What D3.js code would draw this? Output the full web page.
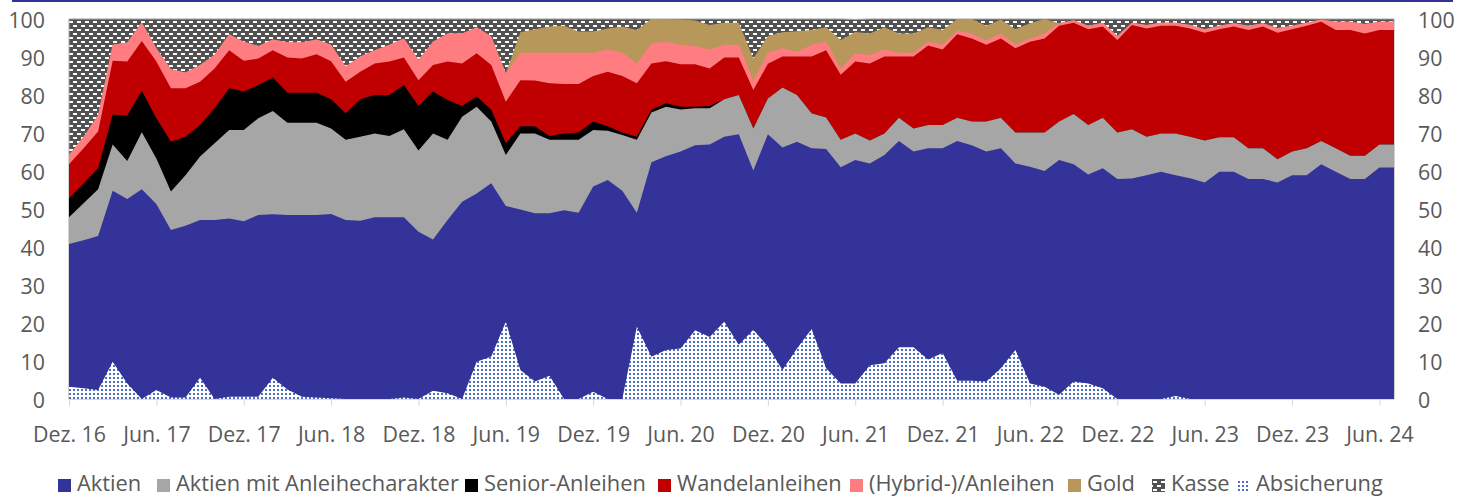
<!DOCTYPE html>
<html>
<head>
<meta charset="utf-8">
<script src="https://cdn.jsdelivr.net/npm/d3@7"></script>
<style>
  body { margin: 0; background: #fff; }
  svg text { font-family: "Open Sans", sans-serif; fill: #595959; }
</style>
</head>
<body>
<div id="viz"></div>
<script>
// monthly allocation in %, Dez. 16 .. Jul. 24
var aktien = [40.8,41.8,42.9,54.8,52.6,55.2,51.3,44.5,45.6,47.1,
  47.1,47.5,46.8,48.4,48.6,48.4,48.4,48.4,48.7,47.1,
  46.9,47.8,47.8,47.8,44.0,42.0,47.1,51.9,54.1,56.8,
  50.8,49.9,48.9,48.9,49.7,49.0,55.9,57.6,54.8,49.0,
  62.3,63.9,65.1,66.8,67.0,69.0,69.7,60.1,69.7,66.2,
  67.7,66.0,65.8,61.0,62.9,62.0,64.2,67.9,65.1,66.0,
  66.0,67.9,66.8,65.1,66.0,62.0,61.1,60.0,62.9,61.8,
  59.1,60.7,57.9,58.0,58.9,59.8,58.9,58.1,57.0,59.8,
  59.8,57.9,57.9,57.0,58.9,58.9,61.8,59.8,57.9,57.9,
  60.9,60.9];
var anleihechar = [7.0,9.7,12.3,12.2,10.0,15.0,12.0,10.1,13.3,16.7,
  20.2,23.3,24.0,25.5,27.2,24.3,24.3,24.3,22.5,21.1,
  22.1,22.1,21.4,23.2,21.4,27.9,21.1,22.4,22.8,16.2,
  13.4,20.0,21.0,19.3,18.5,19.2,14.9,13.0,14.7,19.2,
  13.1,13.0,11.1,9.7,9.5,9.9,10.3,11.1,9.4,15.8,
  12.3,9.2,8.3,7.2,7.0,6.0,5.7,6.1,6.1,6.1,
  6.1,6.1,6.2,7.9,8.0,8.1,9.0,10.1,10.1,13.2,
  13.0,13.3,12.2,13.0,10.1,10.1,11.0,10.9,11.0,9.1,
  9.1,8.1,8.1,6.1,6.2,7.1,6.1,6.2,6.1,6.1,
  6.1,6.1];
var senior = [5.0,5.2,5.5,7.9,12.0,10.9,10.6,13.1,10.1,8.3,
  9.2,11.0,10.1,8.7,8.8,7.9,7.9,7.9,7.7,7.0,
  9.9,10.1,10.8,11.6,11.7,11.0,10.5,2.8,2.7,3.1,
  3.1,1.9,1.9,1.0,1.7,1.9,2.2,1.2,0.6,0.8,
  0.7,0.9,0.7,0.4,0.6,0,0,0,0,0,
  0,0,0,0,0,0,0,0,0,0,
  0,0,0,0,0,0,0,0,0,0,
  0,0,0,0,0,0,0,0,0,0,
  0,0,0,0,0,0,0,0,0,0,
  0,0];
var wandel = [9.0,9.3,9.7,14.1,14.2,13.1,14.9,14.1,12.8,11.4,
  10.5,10.0,8.1,7.0,7.2,9.3,9.0,10.1,10.0,8.3,
  7.2,8.3,8.8,7.3,6.8,7.0,10.1,11.2,11.4,11.8,
  10.9,12.1,12.0,13.9,13.0,12.8,12.0,14.3,14.9,14.1,
  12.2,11.1,11.2,11.2,9.9,11.0,9.9,10.1,9.1,8.1,
  10.1,14.9,17.7,17.1,18.9,20.3,20.2,16.1,18.9,20.9,
  19.9,22.0,21.9,20.2,20.9,22.2,23.9,24.8,25.2,24.0,
  25.2,24.0,24.4,27.4,28.5,28.3,28.3,28.5,28.4,28.4,
  29.1,31.1,32.0,33.3,32.2,32.2,31.4,31.1,33.1,32.2,
  30.1,30.1];
var hybrid = [2.4,3.0,4.3,4.2,5.0,4.9,3.5,5.0,4.1,4.4,
  3.6,4.2,5.0,3.3,2.8,4.0,4.2,3.9,4.3,4.0,
  4.0,3.5,4.4,5.0,5.3,6.1,7.4,7.9,6.8,7.5,
  7.5,7.2,7.3,8.0,8.2,8.2,6.1,5.9,6.2,5.2,
  5.3,5.1,5.1,4.8,5.0,3.3,3.3,2.5,2.9,2.2,
  1.3,3.1,2.2,1.7,2.2,2.2,1.9,1.0,1.0,1.0,
  1.2,0.9,1.3,1.1,1.3,0.9,0.9,1.3,0.7,0.7,
  0.9,1.0,1.0,0.6,0.9,0.8,0.8,0.9,0.9,0.9,
  0.9,1.1,0.9,1.2,0.9,0.8,0.6,2.2,2.2,2.5,
  2.2,2.2];
var gold = [0,0,0,0,0,0,0,0,0,0,
  0,0,0,0,0,0,0,0,0,0,
  0,0,0,0,0,0,0,0,0,0,
  0,5.4,6.2,6.9,7.1,5.6,5.6,5.5,6.8,8.8,
  6.4,6.0,6.7,6.7,6.4,5.8,5.8,5.8,4.4,4.2,
  5.4,3.9,3.8,7.5,5.6,5.7,5.8,5.1,5.1,3.8,
  3.9,3.1,3.8,3.9,3.7,4.1,4.0,3.8,0,0,
  0,0,0,0,0,0,0,0,0,0,
  0,0,0,0,0,0,0,0,0,0,
  0,0];
var kasse = [35.8,31.0,25.3,6.8,6.2,0.9,7.7,13.2,14.1,12.1,
  9.4,4.0,6.0,7.1,5.4,6.1,6.2,5.4,6.8,12.5,
  9.9,8.2,6.8,5.1,10.8,6.0,3.8,3.8,2.2,4.6,
  14.3,3.5,2.7,2.0,1.8,3.3,3.3,2.5,2.0,2.9,
  0,0,0.1,0.4,1.6,1.0,1.0,10.4,4.5,3.5,
  3.2,2.9,2.2,5.5,3.3,3.8,2.2,3.8,3.8,2.2,
  2.9,0,0,1.8,0.1,2.7,1.1,0,1.1,0.3,
  1.8,1.0,4.5,1.0,1.6,1.0,1.0,1.6,2.7,1.8,
  1.1,1.8,1.1,2.4,1.8,1.0,0.1,0.7,0.7,1.3,
  0.7,0.7];
var absicherung = [3.2,2.8,2.4,9.8,4.1,0,2.4,0.4,0.4,5.6,
  0,0.6,0.6,0.6,5.6,2.5,0.6,0.4,0.2,0,
  0,0,0,0.4,0,2.2,1.5,0,9.8,11.2,
  20.3,7.6,4.6,6.1,0,0,1.9,0,0,19.0,
  11.1,12.9,13.3,18.1,16.3,20.3,14.3,18.2,13.8,7.6,
  13.3,18.4,8.1,4.1,4.1,8.9,9.4,13.6,13.6,10.4,
  12.1,4.8,4.8,4.6,8.1,12.9,4.1,3.2,1.1,4.6,
  4.1,2.8,0,0,0,0,0.8,0,0,0,
  0,0,0,0,0,0,0,0,0,0,
  0,0];

var tickLabels = ["Dez. 16","Jun. 17","Dez. 17","Jun. 18","Dez. 18","Jun. 19","Dez. 19","Jun. 20",
  "Dez. 20","Jun. 21","Dez. 21","Jun. 22","Dez. 22","Jun. 23","Dez. 23","Jun. 24"];
var keys = ["aktien","anleihechar","senior","wandel","hybrid","gold","kasse"];
var names = ["Aktien","Aktien mit Anleihecharakter","Senior-Anleihen","Wandelanleihen",
  "(Hybrid-)/Anleihen","Gold","Kasse","Absicherung"];
var colors = {aktien:"#333399", anleihechar:"#a6a6a6", senior:"#000000", wandel:"#c00000",
  hybrid:"#ff7c80", gold:"#b8985a", kasse:"url(#kasse)", absicherung:"url(#absich)"};

var width = 1458, height = 497;
var n = aktien.length;

var svg = d3.select("#viz").append("svg")
    .attr("width", width)
    .attr("height", height);

// patterns for Kasse / Absicherung
var defs = svg.append("defs");
var kp = defs.append("pattern").attr("id", "kasse")
    .attr("patternUnits", "userSpaceOnUse").attr("width", 8).attr("height", 8);
kp.append("rect").attr("width", 8).attr("height", 8).attr("fill", "#525252");
[[1,1],[5,5],[-3,5]].forEach(function(p) {
  kp.append("rect").attr("x", p[0]).attr("y", p[1]).attr("width", 4).attr("height", 2).attr("fill", "#fff");
});
var ap = defs.append("pattern").attr("id", "absich")
    .attr("patternUnits", "userSpaceOnUse").attr("width", 4).attr("height", 4);
ap.append("rect").attr("width", 4).attr("height", 4).attr("fill", "#fff");
ap.append("rect").attr("x", 1).attr("y", 1).attr("width", 2).attr("height", 2).attr("fill", "#4a6fc4");

var x = d3.scaleLinear().domain([0, n - 1]).range([69, 1394]);
var y = d3.scaleLinear().domain([0, 100]).range([399, 19]);

function fit(str, target) {
  var t = svg.append("text").style("font-size", "20px").text(str);
  var w = t.node().getComputedTextLength();
  t.remove();
  return 20 * target / w;
}
var axisSize = fit("Dez. 22", 73);
var legendSize = fit("Aktien mit Anleihecharakter", 283);

var table = d3.range(n).map(function(i) {
  return {aktien: aktien[i], anleihechar: anleihechar[i], senior: senior[i], wandel: wandel[i],
    hybrid: hybrid[i], gold: gold[i], kasse: kasse[i]};
});
var series = d3.stack().keys(keys)(table);

// each layer filled from 0 to its top, top layer first, so no seams
var area = d3.area()
    .x(function(d, i) { return x(i); })
    .y0(y(0))
    .y1(function(d) { return y(d[1]); });

svg.append("g").selectAll("path")
    .data(series.slice().reverse())
  .enter().append("path")
    .attr("d", area)
    .attr("fill", function(d) { return colors[d.key]; })
    .attr("stroke", function(d) { return d.key == "kasse" ? "#a6a6a6" : "none"; })
    .attr("stroke-width", 1);

var absArea = d3.area()
    .x(function(d, i) { return x(i); })
    .y0(y(0))
    .y1(function(d) { return y(d); });
svg.append("path")
    .attr("d", absArea(absicherung))
    .attr("fill", colors.absicherung);

// axes
var xAxis = svg.append("g")
    .attr("transform", "translate(0,399)")
    .call(d3.axisBottom(x)
      .tickValues(d3.range(0, n, 6))
      .tickFormat(function(d, i) { return tickLabels[i]; })
      .tickSize(7)
      .tickSizeOuter(0));
xAxis.select(".domain").attr("stroke", "#d9d9d9");
xAxis.selectAll(".tick line").attr("stroke", "#d9d9d9");
xAxis.selectAll("text")
    .attr("y", 43).attr("dy", 0)
    .style("font-size", axisSize + "px")
    .attr("fill", "#595959");

var yLeft = svg.append("g")
    .attr("transform", "translate(69,0)")
    .call(d3.axisLeft(y).tickValues(d3.range(0, 101, 10)).tickSize(0).tickPadding(24));
var yRight = svg.append("g")
    .attr("transform", "translate(1394,0)")
    .call(d3.axisRight(y).tickValues(d3.range(0, 101, 10)).tickSize(0).tickPadding(24));
[yLeft, yRight].forEach(function(g) {
  g.select(".domain").remove();
  g.selectAll("text")
    .attr("dy", "0.38em")
    .style("font-size", axisSize + "px")
    .attr("fill", "#595959");
});

// top border line
svg.append("line")
    .attr("x1", 12).attr("x2", 1453)
    .attr("y1", 1).attr("y2", 1)
    .attr("stroke", "#333399")
    .attr("stroke-width", 2);

// legend
var legendX = [58, 157, 465, 658, 850, 1068, 1152, 1237];
var legendKeys = keys.concat(["absicherung"]);
var legend = svg.append("g").selectAll("g")
    .data(legendKeys)
  .enter().append("g")
    .attr("transform", function(d, i) { return "translate(" + legendX[i] + ",0)"; });
legend.append("rect")
    .attr("y", 479)
    .attr("width", 13)
    .attr("height", 13)
    .attr("fill", function(d) { return colors[d]; });
legend.append("text")
    .attr("x", 19)
    .attr("y", 491)
    .style("font-size", legendSize + "px")
    .text(function(d, i) { return names[i]; });
</script>
</body>
</html>
